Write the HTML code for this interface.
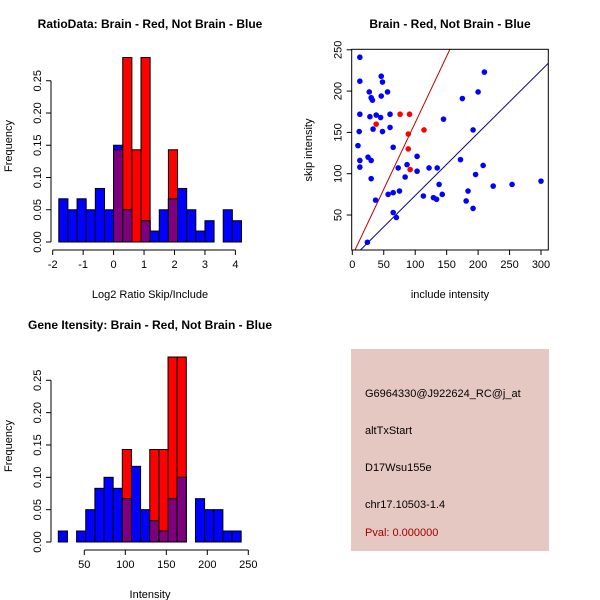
<!DOCTYPE html>
<html><head><meta charset="utf-8"><style>
body{margin:0;background:#fff}
svg{display:block;font-family:"Liberation Sans",sans-serif}
</style></head><body>
<svg id="s" width="600" height="600" viewBox="0 0 600 600">
<rect width="600" height="600" fill="#fff"/>
<g id="p1"></g>
<g id="p2"></g>
<g id="p3"></g>
<g>
<rect x="351" y="349" width="198" height="202" fill="#e6c8c2"/>
<text x="365" y="397" font-size="11">G6964330@J922624_RC@j_at</text>
<text x="365" y="434" font-size="11">altTxStart</text>
<text x="365" y="471" font-size="11">D17Wsu155e</text>
<text x="365" y="508" font-size="11">chr17.10503-1.4</text>
<text x="365" y="536" font-size="11" fill="#a00000">Pval: 0.000000</text>
</g>
</svg>
<script>
// Histogram 1 data
const h1Start=-1.8, h1Width=0.3;
const h1Blue=[0.067,0.05,0.067,0.05,0.083,0.05,0.15,0.05,0,0.033,0.017,0.05,0.067,0.083,0.05,0.017,0.033,0,0.05,0.033];
const h1Red=[0,0,0,0,0,0,0.143,0.286,0.143,0.286,0,0,0.143,0,0,0,0,0,0,0];
const h1XTicks=[-2,-1,0,1,2,3,4];
const yTicks=[0,0.05,0.10,0.15,0.20,0.25];
const yTickLabels=["0.00","0.05","0.10","0.15","0.20","0.25"];
// Histogram 2 data
const h2Start=18.3, h2Width=11.15;
const h2Blue=[0.017,0,0.017,0.05,0.083,0.1,0.083,0.067,0.117,0.05,0.033,0.017,0.067,0.1,0,0.067,0.05,0.05,0.017,0.017];
const h2Red=[0,0,0,0,0,0,0,0.143,0,0,0.143,0.143,0.286,0.286,0,0,0,0,0,0];
const h2XTicks=[50,100,150,200,250];
// Scatter data
const blueX=[12,12,46,48,27,30,32,46,56,12,28,38,45,60,33,48,11,60,9,65,25,30,12,12,30,73,87,103,103,84,57,65,75,65,70,37,24,113,129,134,143,138,122,135,145,175,200,210,192,172,208,196,184,181,192,224,254,300];
const blueY=[241,212,218,211,199,192,189,194,199,172,169,171,168,172,154,151,151,156,134,132,120,116,116,108,94,107,111,121,103,96,75,77,79,53,47,68,17,73,71,69,75,87,107,107,166,191,199,223,153,117,110,99,79,67,58,85,87,91];
const redX=[76,91,38,114,89,89,92];
const redY=[172,172,160,153,148,130,105];
const sXTicks=[0,50,100,150,200,250,300];
const sYTicks=[50,100,150,200,250];
const blueLine=[0.757,-2.2];
const redLine=[1.61,0.7];

const NS="http://www.w3.org/2000/svg";
function mk(parent,tag,attrs){const e=document.createElementNS(NS,tag);for(const k in attrs)e.setAttribute(k,attrs[k]);parent.appendChild(e);return e;}
function txt(parent,x,y,s,attrs){const e=mk(parent,'text',Object.assign({x:x,y:y,'font-size':11,'text-anchor':'middle'},attrs||{}));e.textContent=s;return e;}

function hist(g,o){
  const X=v=>o.x0+(v-o.v0)*o.sx, Y=v=>o.y0-v*o.sy;
  for(let i=0;i<o.blue.length;i++){
    const a=o.start+i*o.w, b=a+o.w, bl=o.blue[i], rd=o.red[i];
    if(bl>0){const r=mk(g,'rect',{x:X(a),y:Y(bl),width:X(b)-X(a),height:Y(0)-Y(bl),fill:'#0000ff',stroke:'#000','stroke-width':1});
      }
    if(rd>0){const r=mk(g,'rect',{x:X(a),y:Y(rd),width:X(b)-X(a),height:Y(0)-Y(rd),fill:'#ff0000',stroke:'#000','stroke-width':1});
      }
    const m=Math.min(bl,rd);
    if(m>0){const r=mk(g,'rect',{x:X(a),y:Y(m),width:X(b)-X(a),height:Y(0)-Y(m),fill:'#7f007f',stroke:'#000','stroke-width':1});
      }
  }
  // y axis
  const ax=o.yAxisX;
  mk(g,'line',{x1:ax,x2:ax,y1:Y(0),y2:Y(0.25),stroke:'#000'});
  yTicks.forEach((t,i)=>{mk(g,'line',{x1:ax-5,x2:ax,y1:Y(t),y2:Y(t),stroke:'#000'});
    const e=txt(g,ax-10,Y(t),yTickLabels[i],{transform:`rotate(-90 ${ax-10} ${Y(t)})`});
    });
  // x axis
  const ay=o.xAxisY, tk=o.xticks;
  mk(g,'line',{x1:X(tk[0]),x2:X(tk[tk.length-1]),y1:ay,y2:ay,stroke:'#000'});
  tk.forEach(t=>{mk(g,'line',{x1:X(t),x2:X(t),y1:ay,y2:ay+5,stroke:'#000'});
    const e=txt(g,X(t),ay+18,String(t));});
  const t1=txt(g,o.cx,o.titleY,o.title,{'font-weight':'bold','font-size':12});
  
  const t2=txt(g,o.cx,o.xlabY,o.xlab);
  
  const t3=txt(g,12,o.ylabY,'Frequency',{transform:`rotate(-90 12 ${o.ylabY})`});
  
}
hist(document.getElementById('p1'),{x0:52.7,v0:-2,sx:30.45,y0:242,sy:645,start:h1Start,w:h1Width,blue:h1Blue,red:h1Red,
  yAxisX:51,xAxisY:250,xticks:h1XTicks,cx:150,titleY:28,title:'RatioData: Brain - Red, Not Brain - Blue',xlabY:298,xlab:'Log2 Ratio Skip/Include',ylabY:146});
hist(document.getElementById('p3'),{x0:84.3,v0:50,sx:0.82,y0:542,sy:646.8,start:h2Start,w:h2Width,blue:h2Blue,red:h2Red,
  yAxisX:51,xAxisY:550,xticks:h2XTicks,cx:150,titleY:329,title:'Gene Itensity: Brain - Red, Not Brain - Blue',xlabY:598,xlab:'Intensity',ylabY:446});

// Scatter
(function(){
  const g=document.getElementById('p2');
  const L=351.7,R=548.3,T=49.3,B=250;
  const X=v=>352.3+v*0.629, Y=v=>215-(v-50)*0.826;
  const cp=mk(g,'clipPath',{id:'cp'});mk(cp,'rect',{x:L,y:T,width:R-L,height:B-T});
  [[redLine,'#c00000','red-fit-line'],[blueLine,'#00008b','blue-fit-line']].forEach(([ln,c,n])=>{
    const xa=-10,xb=320;
    const l=mk(g,'line',{x1:X(xa),y1:Y(ln[0]*xa+ln[1]),x2:X(xb),y2:Y(ln[0]*xb+ln[1]),stroke:c,'clip-path':'url(#cp)'});
    
  });
  blueX.forEach((x,i)=>{const c=mk(g,'circle',{cx:X(x),cy:Y(blueY[i]),r:2.8,fill:'#0000ff'});
    });
  redX.forEach((x,i)=>{const c=mk(g,'circle',{cx:X(x),cy:Y(redY[i]),r:2.8,fill:'#ff0000'});
    });
  mk(g,'rect',{x:L,y:T,width:R-L,height:B-T,fill:'none',stroke:'#000'});
  sXTicks.forEach(t=>{mk(g,'line',{x1:X(t),x2:X(t),y1:B,y2:B+5,stroke:'#000'});
    const e=txt(g,X(t),B+18,String(t));});
  sYTicks.forEach(t=>{mk(g,'line',{x1:L-5,x2:L,y1:Y(t),y2:Y(t),stroke:'#000'});
    const e=txt(g,L-10,Y(t),String(t),{transform:`rotate(-90 ${L-10} ${Y(t)})`});});
  const t1=txt(g,450,28,'Brain - Red, Not Brain - Blue',{'font-weight':'bold','font-size':12});
  
  const t2=txt(g,450,298,'include intensity');
  const t3=txt(g,312,150,'skip intensity',{transform:'rotate(-90 312 150)'});
})();
</script>
</body></html>
